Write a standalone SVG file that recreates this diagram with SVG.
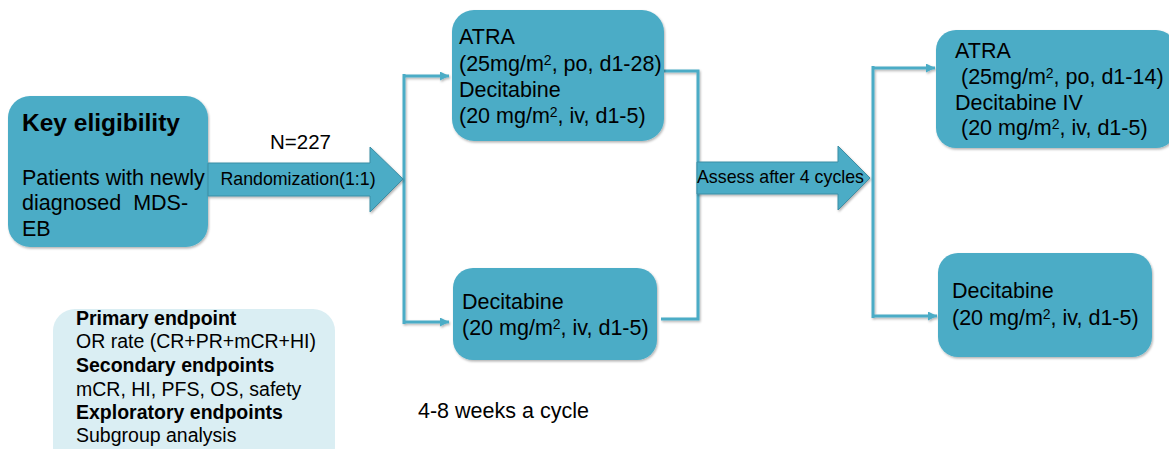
<svg xmlns="http://www.w3.org/2000/svg" width="1169" height="449" viewBox="0 0 1169 449">
<defs>
<filter id="sh" x="-10%" y="-10%" width="120%" height="130%">
<feDropShadow dx="1" dy="1.5" stdDeviation="1.2" flood-color="#000" flood-opacity="0.3"/>
</filter>
<filter id="lsh" filterUnits="userSpaceOnUse" x="0" y="0" width="1169" height="449">
<feDropShadow dx="1" dy="1.5" stdDeviation="1" flood-color="#000" flood-opacity="0.3"/>
</filter>
<marker id="ah" markerUnits="userSpaceOnUse" markerWidth="10" markerHeight="10" refX="9" refY="4.5" orient="auto">
<path d="M0,0 L9,4.5 L0,9 z" fill="#4BACC6"/>
</marker>
<style>
.box{fill:#4BACC6;filter:url(#sh);}
.ep{fill:#DAEEF3;}
.arr{fill:#4BACC6;stroke:#3C8EA5;stroke-width:1;filter:url(#sh);}
.ln{fill:none;stroke:#4BACC6;stroke-width:3;}
text{font-family:"Liberation Sans",Arial,sans-serif;fill:#000;}
.t{font-size:21.5px;}
.s{font-size:17.8px;}
.e{font-size:19.5px;}
.b{font-weight:bold;}
</style>
</defs>
<rect width="1169" height="449" fill="#fff"/>

<g id="connectors" filter="url(#lsh)">
<path class="ln" d="M404,74 V324"/>
<path class="ln" d="M404,76 H449" marker-end="url(#ah)"/>
<path class="ln" d="M404,322 H449" marker-end="url(#ah)"/>
<path class="ln" d="M664,71 H698 V319 H661"/>
<path class="ln" d="M873,66 V318"/>
<path class="ln" d="M873,68 H935" marker-end="url(#ah)"/>
<path class="ln" d="M873,316 H937" marker-end="url(#ah)"/>
</g>

<g id="key-eligibility">
<rect class="box" x="8" y="96" width="200" height="151" rx="22"/>
<text class="b" x="22" y="131" font-size="24.5">Key eligibility</text>
<text class="t" x="22" y="185">Patients with newly</text>
<text class="t" x="22" y="210" xml:space="preserve">diagnosed  MDS-</text>
<text class="t" x="22" y="236">EB</text>
</g>

<g id="randomization-arrow">
<polygon class="arr" points="208,163 370,163 370,147 403,179 370,212 370,196 208,196"/>
<text x="270" y="149" font-size="20.5">N=227</text>
<text class="s" x="298" y="185" text-anchor="middle">Randomization(1:1)</text>
</g>

<g id="arm-atra-decitabine">
<rect class="box" x="452" y="10" width="212" height="131" rx="22"/>
<text class="t" x="459" y="44">ATRA</text>
<text class="t" x="459" y="71">(25mg/m<tspan font-size="14" dy="-6">2</tspan><tspan dy="6">, po, d1-28)</tspan></text>
<text class="t" x="459" y="97">Decitabine</text>
<text class="t" x="459" y="123">(20 mg/m<tspan font-size="14" dy="-6">2</tspan><tspan dy="6">, iv, d1-5)</tspan></text>
</g>

<g id="arm-decitabine">
<rect class="box" x="453" y="268" width="204" height="92" rx="20"/>
<text class="t" x="462" y="309">Decitabine</text>
<text class="t" x="462" y="335">(20 mg/m<tspan font-size="14" dy="-6">2</tspan><tspan dy="6">, iv, d1-5)</tspan></text>
</g>

<g id="assess-arrow">
<polygon class="arr" points="697,162 838,162 838,146 870,178 838,210 838,194 697,194"/>
<text class="s" x="697" y="183">Assess after 4 cycles</text>
</g>

<g id="continue-atra-decitabine">
<rect class="box" x="936" y="30" width="240" height="118" rx="20"/>
<text class="t" x="955" y="58">ATRA</text>
<text class="t" x="955" y="84" xml:space="preserve"> (25mg/m<tspan font-size="14" dy="-6">2</tspan><tspan dy="6">, po, d1-14)</tspan></text>
<text class="t" x="955" y="110">Decitabine IV</text>
<text class="t" x="955" y="135" xml:space="preserve"> (20 mg/m<tspan font-size="14" dy="-6">2</tspan><tspan dy="6">, iv, d1-5)</tspan></text>
</g>

<g id="continue-decitabine">
<rect class="box" x="938" y="253" width="214" height="104" rx="20"/>
<text class="t" x="952" y="298">Decitabine</text>
<text class="t" x="952" y="325">(20 mg/m<tspan font-size="14" dy="-6">2</tspan><tspan dy="6">, iv, d1-5)</tspan></text>
</g>

<g id="endpoints">
<rect class="ep" x="53" y="309" width="282" height="160" rx="22"/>
<text class="e b" x="76" y="325">Primary endpoint</text>
<text class="e" x="76" y="348">OR rate (CR+PR+mCR+HI)</text>
<text class="e b" x="76" y="372">Secondary endpoints</text>
<text class="e" x="76" y="396">mCR, HI, PFS, OS, safety</text>
<text class="e b" x="76" y="419">Exploratory endpoints</text>
<text class="e" x="76" y="442">Subgroup analysis</text>
</g>

<g id="cycle-note">
<text class="t" x="418" y="418">4-8 weeks a cycle</text>
</g>
</svg>
